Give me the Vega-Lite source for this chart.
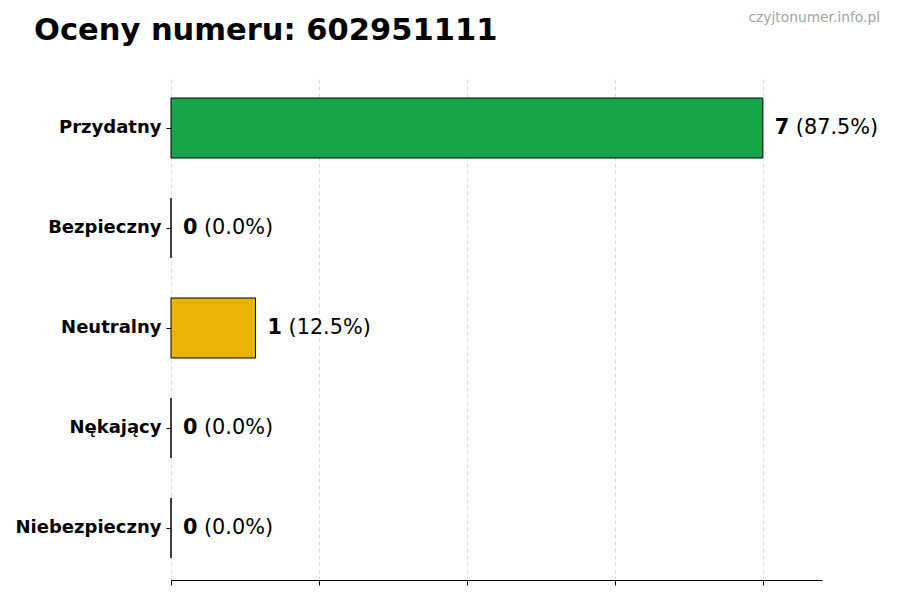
{
  "$schema": "https://vega.github.io/schema/vega-lite/v6.json",
  "autosize": "none",
  "width": 651,
  "height": 504,
  "padding": {"left": 171, "top": 76, "right": 78, "bottom": 20},
  "background": "white",
  "config": {"font": "DejaVu Sans", "view": {"stroke": null}},
  "title": {
    "text": "Oceny numeru: 602951111",
    "anchor": "start",
    "frame": "group",
    "dx": -137,
    "dy": 96,
    "offset": 37,
    "baseline": "alphabetic",
    "fontSize": 30.5,
    "fontWeight": "bold",
    "color": "black",
    "font": "DejaVu Sans"
  },
  "data": {
    "values": [
      {"kategoria": "Przydatny", "liczba": 7, "procent": "(87.5%)", "kolor": "#16a34a"},
      {"kategoria": "Bezpieczny", "liczba": 0, "procent": "(0.0%)", "kolor": "#22c55e"},
      {"kategoria": "Neutralny", "liczba": 1, "procent": "(12.5%)", "kolor": "#eab308"},
      {"kategoria": "Nękający", "liczba": 0, "procent": "(0.0%)", "kolor": "#f97316"},
      {"kategoria": "Niebezpieczny", "liczba": 0, "procent": "(0.0%)", "kolor": "#dc2626"}
    ]
  },
  "encoding": {
    "y": {
      "field": "kategoria",
      "type": "nominal",
      "sort": null,
      "scale": {"paddingInner": 0.4, "paddingOuter": 0.22},
      "axis": {
        "title": null,
        "domain": false,
        "ticks": true,
        "tickColor": "black",
        "tickSize": 5,
        "labelPadding": 5,
        "labelFont": "DejaVu Sans",
        "labelFontSize": 18,
        "labelFontWeight": "bold",
        "labelColor": "black",
        "grid": false
      }
    },
    "x": {
      "field": "liczba",
      "type": "quantitative",
      "scale": {"domain": [0, 7.7], "nice": false, "zero": true},
      "axis": {
        "title": null,
        "values": [0, 1.75, 3.5, 5.25, 7],
        "labels": false,
        "domain": true,
        "domainColor": "black",
        "domainWidth": 1,
        "ticks": true,
        "tickColor": "black",
        "tickSize": 5,
        "grid": true,
        "gridColor": "#d4d4d4",
        "gridDash": [4, 3],
        "gridWidth": 0.8
      }
    }
  },
  "layer": [
    {
      "mark": {"type": "bar", "stroke": "black", "strokeWidth": 1},
      "encoding": {
        "color": {"field": "kolor", "type": "nominal", "scale": null}
      }
    },
    {
      "mark": {"type": "text", "align": "left", "baseline": "middle", "dx": 12, "fontSize": 20.8, "fontWeight": "bold", "color": "black", "font": "DejaVu Sans"},
      "encoding": {"text": {"field": "liczba", "type": "quantitative"}}
    },
    {
      "mark": {"type": "text", "align": "left", "baseline": "middle", "dx": 33, "fontSize": 20.8, "color": "black", "font": "DejaVu Sans"},
      "encoding": {"text": {"field": "procent", "type": "nominal"}}
    },
    {
      "data": {"values": [{"znak": "czyjtonumer.info.pl"}]},
      "mark": {"type": "text", "align": "right", "baseline": "alphabetic", "dx": 58, "dy": -54, "fontSize": 13.8, "color": "#a3a3a3", "font": "DejaVu Sans"},
      "encoding": {
        "x": {"value": "width"},
        "y": {"value": 0},
        "text": {"field": "znak", "type": "nominal"}
      }
    }
  ]
}
